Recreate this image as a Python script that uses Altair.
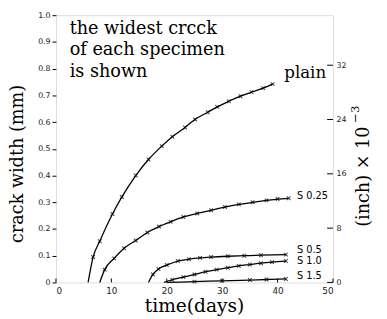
import altair as alt
import pandas as pd

# ---- data ----
plain_day = [5.8, 6.7, 7.9, 10.2, 11.9, 14.4, 16.7, 19.1, 21.0, 23.3, 25.1, 27.4, 29.1, 31.2, 33.3, 35.3, 37.4, 39.1]
plain_mm = [0.0, 0.095, 0.154, 0.256, 0.32, 0.40, 0.46, 0.51, 0.545, 0.58, 0.61, 0.637, 0.657, 0.678, 0.697, 0.712, 0.727, 0.742]

s025_day = [7.9, 8.8, 10.5, 12.3, 14.4, 16.5, 18.6, 20.7, 23.0, 25.5, 28.0, 30.5, 33.0, 35.5, 38.0, 40.0, 42.0]
s025_mm = [0.0, 0.048, 0.09, 0.128, 0.157, 0.187, 0.209, 0.227, 0.245, 0.258, 0.27, 0.282, 0.292, 0.30, 0.307, 0.312, 0.315]

s05_day = [16.7, 17.5, 18.5, 20.0, 22.0, 24.0, 26.0, 28.0, 31.0, 34.0, 37.0, 41.5]
s05_mm = [0.0, 0.03, 0.05, 0.065, 0.08, 0.087, 0.092, 0.095, 0.098, 0.10, 0.102, 0.104]

s10_day = [19.5, 21.0, 23.0, 25.0, 27.0, 29.0, 31.0, 33.0, 35.0, 37.0, 39.0, 41.5]
s10_mm = [0.0, 0.01, 0.02, 0.03, 0.04, 0.048, 0.055, 0.062, 0.067, 0.072, 0.076, 0.08]

s15_day = [20.0, 25.0, 30.0, 35.0, 38.0, 41.5]
s15_mm = [0.0, 0.003, 0.006, 0.009, 0.011, 0.013]

series_names = ["plain", "S 0.25", "S 0.5", "S 1.0", "S 1.5"]
label_day = [41.2, 43.5, 43.5, 43.5, 43.5]
label_mm = [0.784, 0.322, 0.121, 0.081, 0.022]

x_ticks = [0, 10, 20, 30, 40, 50]
mm_ticks = [0, 0.1, 0.2, 0.3, 0.4, 0.5, 0.6, 0.7, 0.8, 0.9, 1.0]
inch_ticks = [0, 8, 16, 24, 32]

note_lines = ["the widest crcck", "of each specimen", "is shown"]

# ---- tables ----
rows = []
for name, ds, ms in zip(series_names,
                        [plain_day, s025_day, s05_day, s10_day, s15_day],
                        [plain_mm, s025_mm, s05_mm, s10_mm, s15_mm]):
    for i, (d, m) in enumerate(zip(ds, ms)):
        rows.append({"series": name, "day": d, "mm": m, "marker": i > 0})
df = pd.DataFrame(rows)
labels_df = pd.DataFrame({"series": series_names, "day": label_day, "mm": label_mm})
xt_df = pd.DataFrame({"day": x_ticks})
it_df = pd.DataFrame({"inch": inch_ticks})
note_df = pd.DataFrame({"t": note_lines, "i": list(range(len(note_lines)))})

W, H = 283, 273
SERIF = "DejaVu Serif"
SANS = "DejaVu Sans"

xs = alt.Scale(domain=[0, 50], nice=False, zero=False)
ys = alt.Scale(domain=[0, 1.0], nice=False)

x_axis = alt.Axis(
    values=x_ticks, title=None, grid=False, domain=False, ticks=False,
    labelFont=SANS, labelFontSize=9, labelPadding=4, labelColor="#222", labelOverlap=False)
y_axis = alt.Axis(
    values=mm_ticks, grid=False, domain=False, tickSize=4, tickColor="black",
    labelExpr="datum.value == 0 ? '0' : format(datum.value, '.1f')",
    labelFont=SANS, labelFontSize=8, labelPadding=2, labelColor="#222",
    labelOverlap=False, title=None)

x_enc = alt.X("day:Q", scale=xs, axis=x_axis)
y_enc = alt.Y("mm:Q", scale=ys, axis=y_axis)

lines = alt.Chart(df).mark_line(interpolate="monotone", color="black", strokeWidth=1.3).encode(
    x=x_enc, y=y_enc, detail="series:N")

points = alt.Chart(df).transform_filter("datum.marker").mark_point(
    shape="M-1,-1L1,1M-1,1L1,-1", filled=False, color="black", size=14, strokeWidth=1.1
).encode(x=x_enc, y=y_enc)

lab_plain = alt.Chart(labels_df).transform_filter("datum.series == 'plain'").mark_text(
    align="left", baseline="middle", font=SERIF, fontSize=17, color="black"
).encode(x=x_enc, y=y_enc, text="series:N")

lab_s = alt.Chart(labels_df).transform_filter("datum.series != 'plain'").mark_text(
    align="left", baseline="middle", font=SANS, fontSize=10, color="black"
).encode(x=x_enc, y=y_enc, text="series:N")

bottom_ticks = alt.Chart(xt_df).mark_rule(color="black", strokeWidth=1).encode(
    x=x_enc, y=alt.value(H - 4), y2=alt.value(H))

note = alt.Chart(note_df).mark_text(
    align="left", baseline="alphabetic", font=SERIF, fontSize=18, color="black"
).encode(x=alt.value(14), y=alt.Y("i:Q", scale=alt.Scale(domain=[0, 12], range=[19, 19 + 22 * 12]), axis=None),
         text="t:N")

ytitle = alt.Chart(pd.DataFrame({"t": ["crack width (mm)"]})).mark_text(
    angle=270, align="center", baseline="middle", font=SERIF, fontSize=18, color="black"
).encode(x=alt.value(-39), y=alt.value(152), text="t:N")

xtitle = alt.Chart(pd.DataFrame({"t": ["time(days)"]})).mark_text(
    align="center", baseline="alphabetic", font=SERIF, fontSize=19, color="black"
).encode(x=alt.value(W / 2), y=alt.value(H + 30), text="t:N")

rtitle = alt.Chart(pd.DataFrame({"t": ["(inch) \u00d7 10"]})).mark_text(
    angle=270, align="center", baseline="middle", font=SERIF, fontSize=18, color="black"
).encode(x=alt.value(W + 32), y=alt.value(165), text="t:N")

rsup = alt.Chart(pd.DataFrame({"t": ["\u22123"]})).mark_text(
    angle=270, align="left", baseline="middle", font=SERIF, fontSize=12, color="black"
).encode(x=alt.value(W + 23), y=alt.value(110), text="t:N")

right_ticks = alt.Chart(it_df).mark_rule(color="black", strokeWidth=1).encode(
    y=alt.Y("inch:Q", scale=alt.Scale(domain=[0, 1000 / 25.4], nice=False),
            axis=alt.Axis(orient="right", values=inch_ticks, title=None, tickSize=0, domain=False,
                          grid=False, labelFont=SANS, labelFontSize=8, labelPadding=3,
                          labelColor="#222", labelOverlap=False)),
    x=alt.value(W - 6), x2=alt.value(W))

main = alt.layer(lines, points, lab_plain, lab_s, bottom_ticks, ytitle, xtitle, rtitle, rsup)
chart = alt.layer(main, note, right_ticks).resolve_scale(y="independent").properties(
    width=W, height=H,
    autosize=alt.AutoSizeParams(type="none"),
    padding={"left": 49, "top": 4, "right": 47, "bottom": 34},
).configure_view(stroke="black", strokeWidth=1.2).configure(background="white")

chart.save("out.html", embed_options={"renderer": "svg", "actions": False})
